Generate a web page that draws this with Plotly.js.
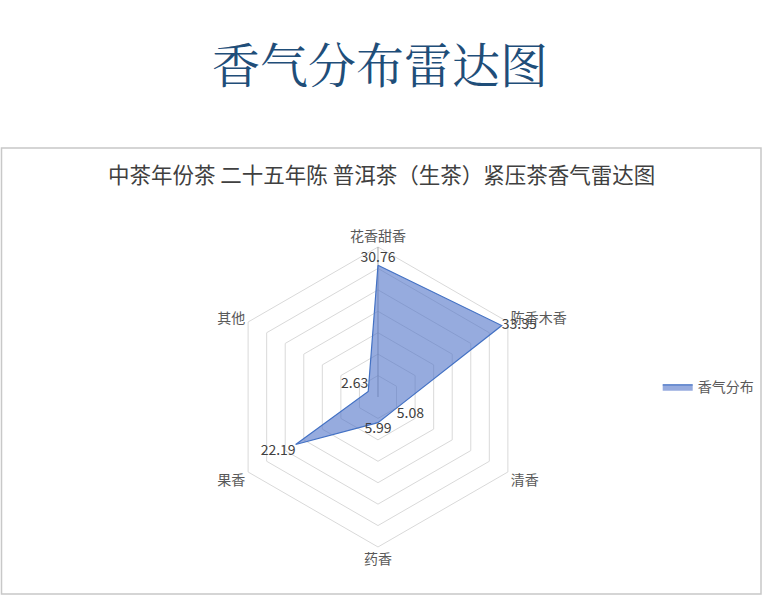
<!DOCTYPE html>
<html>
<head>
<meta charset="utf-8">
<script src="https://cdn.plot.ly/plotly-3.0.1.min.js"></script>
<style>
  html, body { margin: 0; padding: 0; background: #fff; }
  #myPlot { width: 763px; height: 605px; }
</style>
</head>
<body>
<div id="myPlot"></div>
<script>
// aroma categories and their shares (%)
let categories = ["花香甜香", "陈香木香", "清香", "药香", "果香", "其他"];
let values = [30.76, 33.35, 5.08, 5.99, 22.19, 2.63];
let seriesName = "香气分布";
let pageTitle = "香气分布雷达图";
let chartTitle = "中茶年份茶 二十五年陈 普洱茶（生茶）紧压茶香气雷达图";

let cjk = "Noto Sans CJK SC, sans-serif";

// where each value label sits relative to its point
let labelPos = ["top center", "middle right", "bottom right", "bottom center", "bottom left", "top left"];

// close the polygon
let r = values.concat([values[0]]);
let theta = categories.concat([categories[0]]);

var trace1 = {
  type: "scatterpolar",
  r: r,
  theta: theta,
  name: seriesName,
  mode: "lines",
  fill: "toself",
  fillcolor: "rgba(80,115,200,0.6)",
  line: { color: "#4472c4", width: 1.2 },
  hoverinfo: "skip"
};

var trace2 = {
  type: "scatterpolar",
  r: values,
  theta: categories,
  mode: "text",
  text: values.map(function (v) { return v.toFixed(2); }),
  textposition: labelPos,
  textfont: { family: cjk, size: 14, color: "#404040" },
  showlegend: false,
  hoverinfo: "skip"
};

var data = [trace1, trace2];

var layout = {
  width: 763,
  height: 605,
  margin: { l: 0, r: 0, t: 0, b: 0 },
  paper_bgcolor: "#fff",
  font: { family: cjk, color: "#595959" },
  showlegend: true,
  legend: {
    x: 0.862,
    y: 0.36,
    xanchor: "left",
    yanchor: "middle",
    itemwidth: 30,
    font: { family: cjk, size: 14, color: "#595959" }
  },
  polar: {
    domain: { x: [0.2988, 0.6920], y: [0.0959, 0.5917] },
    bgcolor: "#fff",
    gridshape: "linear",
    radialaxis: {
      range: [0, 35],
      dtick: 5,
      angle: 90,
      showticklabels: false,
      ticks: "",
      gridcolor: "#d9d9d9",
      showline: true,
      linecolor: "#a6a6a6",
      linewidth: 1,
      layer: "below traces"
    },
    angularaxis: {
      direction: "clockwise",
      rotation: 90,
      showgrid: false,
      showline: true,
      linecolor: "#d9d9d9",
      ticks: "",
      tickfont: { family: cjk, size: 14, color: "#595959" },
      layer: "below traces"
    }
  },
  shapes: [{
    type: "rect",
    xref: "paper", yref: "paper",
    x0: 1.5 / 763, x1: 761 / 763,
    y0: 1 - 594 / 605, y1: 1 - 148 / 605,
    line: { color: "#c8c8c8", width: 1.5 },
    fillcolor: "rgba(0,0,0,0)",
    layer: "below"
  }],
  annotations: [{
    text: pageTitle,
    xref: "paper", yref: "paper",
    x: 380 / 763, y: 1 - 62 / 605,
    xanchor: "center", yanchor: "middle",
    showarrow: false,
    font: { family: "Noto Serif CJK SC, Noto Sans CJK SC, serif", size: 48, color: "#1f4e79" }
  }, {
    text: chartTitle,
    xref: "paper", yref: "paper",
    x: 381 / 763, y: 1 - 174 / 605,
    xanchor: "center", yanchor: "middle",
    showarrow: false,
    font: { family: cjk, size: 21.5, color: "#404040" }
  }]
};

Plotly.newPlot("myPlot", data, layout, { displayModeBar: false, staticPlot: true });
</script>
</body>
</html>
